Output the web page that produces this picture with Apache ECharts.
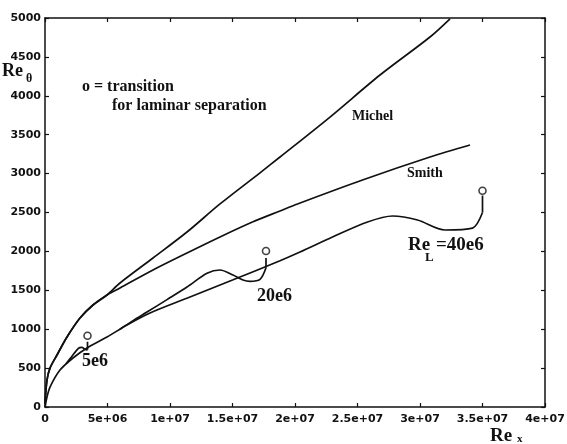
<!DOCTYPE html>
<html><head><meta charset="utf-8">
<script src="https://cdn.jsdelivr.net/npm/echarts@6/dist/echarts.min.js"></script>
<style>html,body{margin:0;padding:0;background:#fff}#chart{width:567px;height:444px}</style>
</head><body><div id="chart"></div>
<script>
// Axis tick labels
const xTickLabels = ['0', '5e+06', '1e+07', '1.5e+07', '2e+07', '2.5e+07', '3e+07', '3.5e+07', '4e+07'];
const yTickLabels = ['0', '500', '1000', '1500', '2000', '2500', '3000', '3500', '4000', '4500', '5000'];

// Michel correlation: Re_x, Re_theta
const michelX = [0, 0.16e6, 0.4e6, 0.96e6, 1.76e6, 2.8e6, 3.84e6, 4.96e6, 6.0e6, 8.64e6, 11.36e6, 14.0e6, 17.2e6, 18.8e6, 22.8e6, 26.8e6, 30.8e6, 32.4e6];
const michelY = [40, 347, 500, 668, 900, 1144, 1311, 1440, 1594, 1915, 2249, 2610, 3010, 3213, 3727, 4267, 4756, 4990];

// Smith correlation
const smithX = [0, 0.16e6, 0.4e6, 0.96e6, 1.76e6, 2.8e6, 3.84e6, 4.96e6, 6.0e6, 8.64e6, 11.36e6, 14.0e6, 16.64e6, 18.8e6, 20.2e6, 25.4e6, 30.8e6, 34.0e6];
const smithY = [40, 347, 500, 668, 900, 1144, 1311, 1440, 1530, 1761, 1979, 2185, 2380, 2520, 2610, 2918, 3213, 3368];

// Boundary-layer path for Re_L = 40e6
const re40X = [0, 0.16e6, 0.4e6, 1.2e6, 2.24e6, 3.36e6, 4.96e6, 6.56e6, 8.4e6, 11.4e6, 15.0e6, 18.8e6, 20.4e6, 23.0e6, 25.8e6, 27.8e6, 29.8e6, 32.0e6, 34.2e6, 35.0e6];
const re40Y = [0, 129, 257, 475, 630, 758, 900, 1054, 1208, 1401, 1632, 1880, 1992, 2185, 2378, 2455, 2404, 2275, 2300, 2500];
const re40StemY = [2500, 2720];
const re40TransY = 2780;

// Re_L = 20e6 (branches off the common path)
const re20X = [6.0e6, 7.04e6, 8.16e6, 9.76e6, 11.36e6, 12.96e6, 14.0e6, 15.04e6, 15.84e6, 16.4e6, 17.2e6, 17.68e6];
const re20Y = [1000, 1110, 1220, 1380, 1542, 1718, 1761, 1697, 1632, 1615, 1640, 1790];
const re20StemY = [1790, 1915];
const re20TransY = 2005;

// Re_L = 5e6
const re5X = [1.7e6, 2.1e6, 2.67e6, 2.93e6, 3.33e6, 3.4e6];
const re5Y = [560, 640, 754, 767, 735, 735];
const re5StemY = [735, 840];
const re5TransY = 915;

const zip = (xs, ys) => xs.map((x, i) => [x, ys[i]]);
const stem = (x, ys) => ys.map(y => [x, y]);

const INK = '#111';
const serif = '"Liberation Serif", "DejaVu Serif", serif';
const sans = '"DejaVu Sans", sans-serif';

const chart = echarts.init(document.getElementById('chart'), null, { renderer: 'canvas' });

const curve = (data) => ({
  type: 'line', data, smooth: 0.3, showSymbol: false, silent: true,
  lineStyle: { color: INK, width: 1.7 }, xAxisIndex: 0, yAxisIndex: 0, z: 3
});
const stemLine = (data) => ({
  type: 'line', data, smooth: false, showSymbol: false, silent: true,
  lineStyle: { color: INK, width: 1.7 }, z: 3
});

const axisCommon = {
  axisLine: { show: true, onZero: false, lineStyle: { color: INK, width: 1.5 } },
  axisTick: { show: true, inside: true, length: 4, lineStyle: { color: INK, width: 1.2 } },
  splitLine: { show: false }
};

chart.setOption({
  animation: false,
  backgroundColor: '#fff',
  grid: { left: 45, right: 22, top: 18, bottom: 37, containLabel: false, outerBoundsMode: 'none' },
  xAxis: [
    Object.assign({
      type: 'value', position: 'bottom', min: 0, max: 4e7, interval: 5e6,
      axisLabel: {
        color: INK, fontFamily: sans, fontWeight: 'bold', fontSize: 11, margin: 7,
        formatter: v => xTickLabels[Math.round(v / 5e6)]
      }
    }, axisCommon),
    Object.assign({
      type: 'value', position: 'top', min: 0, max: 4e7, interval: 5e6,
      axisLabel: { show: false }
    }, axisCommon)
  ],
  yAxis: [
    Object.assign({
      type: 'value', position: 'left', min: 0, max: 5000, interval: 500,
      axisLabel: {
        color: INK, fontFamily: sans, fontWeight: 'bold', fontSize: 11, margin: 4,
        formatter: v => yTickLabels[Math.round(v / 500)]
      }
    }, axisCommon),
    Object.assign({
      type: 'value', position: 'right', min: 0, max: 5000, interval: 500,
      axisLabel: { show: false }
    }, axisCommon)
  ],
  series: [
    curve(zip(michelX, michelY)),
    curve(zip(smithX, smithY)),
    curve(zip(re40X, re40Y)),
    curve(zip(re20X, re20Y)),
    curve(zip(re5X, re5Y)),
    stemLine(stem(re40X[re40X.length - 1], re40StemY)),
    stemLine(stem(re20X[re20X.length - 1], re20StemY)),
    stemLine(stem(re5X[re5X.length - 1], re5StemY)),
    {
      type: 'scatter', silent: true, z: 4,
      data: [
        [re40X[re40X.length - 1], re40TransY],
        [re20X[re20X.length - 1], re20TransY],
        [re5X[re5X.length - 1], re5TransY]
      ],
      symbol: 'circle', symbolSize: 7,
      itemStyle: { color: '#fff', borderColor: INK, borderWidth: 1.6 }
    }
  ],
  graphic: [
    { type: 'text', left: 2, top: 62, style: { text: 'Re', font: 'bold 18px ' + serif, fill: INK } },
    { type: 'text', left: 26, top: 73, style: { text: 'θ', font: 'bold 12px ' + serif, fill: INK } },
    { type: 'text', left: 490, top: 427, style: { text: 'Re', font: 'bold 19px ' + serif, fill: INK } },
    { type: 'text', left: 517, top: 434, style: { text: 'x', font: 'bold 11px ' + serif, fill: INK } },
    { type: 'text', left: 82, top: 79, style: { text: 'o = transition', font: 'bold 16px ' + serif, fill: INK } },
    { type: 'text', left: 112, top: 98, style: { text: 'for laminar separation', font: 'bold 16px ' + serif, fill: INK } },
    { type: 'text', left: 352, top: 109, style: { text: 'Michel', font: 'bold 14px ' + serif, fill: INK } },
    { type: 'text', left: 407, top: 166, style: { text: 'Smith', font: 'bold 14px ' + serif, fill: INK } },
    { type: 'text', left: 408, top: 236, style: { text: 'Re', font: 'bold 19px ' + serif, fill: INK } },
    { type: 'text', left: 425, top: 251, style: { text: 'L', font: 'bold 13px ' + serif, fill: INK } },
    { type: 'text', left: 436, top: 236, style: { text: '=40e6', font: 'bold 19px ' + serif, fill: INK } },
    { type: 'text', left: 257, top: 287, style: { text: '20e6', font: 'bold 18px ' + serif, fill: INK } },
    { type: 'text', left: 82, top: 352, style: { text: '5e6', font: 'bold 18px ' + serif, fill: INK } }
  ]
});
</script>
</body></html>
